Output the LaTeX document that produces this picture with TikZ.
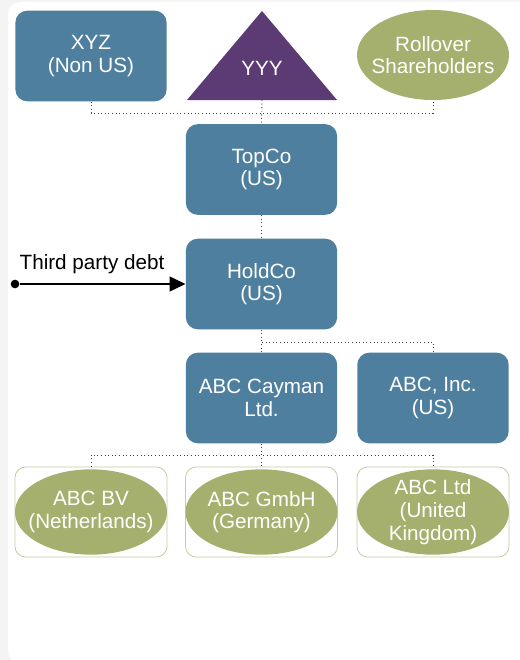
\documentclass[tikz,border=0pt]{standalone}
\usepackage{fontspec}
\setmainfont{Liberation Sans}
\usetikzlibrary{shapes.geometric, arrows.meta}

\definecolor{corpblue}{HTML}{4F7F9E}
\definecolor{fundpurple}{HTML}{5C3B74}
\definecolor{olivegreen}{HTML}{A6B06E}
\definecolor{boxedge}{HTML}{C6CCA0}
\definecolor{pagegray}{HTML}{F4F4F4}

\begin{document}
\begin{tikzpicture}[x=0.75pt, y=-0.75pt]

  % Styles for entities and links
  \tikzset{
    txt/.style={text=white, align=center, font=\fontsize{15.5}{17}\selectfont},
    entity/.style={txt, rectangle, rounded corners=9pt, fill=corpblue,
      minimum width=113.5pt, minimum height=68pt, inner sep=0pt},
    blob/.style={ellipse, fill=olivegreen, minimum width=114pt,
      minimum height=67.5pt, inner sep=0pt},
    frame/.style={rectangle, rounded corners=8pt, draw=boxedge, line width=0.6pt,
      fill=white, minimum width=114pt, minimum height=67.5pt, inner sep=0pt},
    link/.style={dotted, line width=0.7pt, draw=black!75},
    debt/.style={line width=1.8pt, -{Triangle[length=12pt, width=11pt]}},
    dot/.style={circle, fill=black, inner sep=0pt, minimum size=6.5pt}
  }

  \useasboundingbox (0,0) rectangle (520,660);

  % Page background
  \begin{scope}
    \clip (0,0) rectangle (520,660);
    \fill[pagegray] (0,0) rectangle (520,660);
    \fill[white, rounded corners=9pt] (8,2) rectangle (545,663);
  \end{scope}

  % Owners
  \node[entity] (xyz) at (91,56) {XYZ\\(Non US)};
  \fill[fundpurple] (262,11) -- (337,100) -- (187,100) -- cycle;
  \coordinate (yyyb) at (262,100);
  \node[txt] (yyy) at (262,68) {YYY};
  \node[blob, label={[txt]center:Rollover\\Shareholders}] (roll) at (433,55) {};

  % Chain
  \node[entity] (topco) at (261.5,169.5) {TopCo\\(US)};
  \node[entity] (holdco) at (261.5,284) {HoldCo\\(US)};
  \node[entity] (cayman) at (261.5,398) {ABC Cayman\\Ltd.};
  \node[entity] (inc) at (433,398) {ABC, Inc.\\(US)};

  % Foreign subsidiaries
  \node[frame] (bvbox) at (91,512) {};
  \node[frame] (gmbhbox) at (261.5,512) {};
  \node[frame] (ltdbox) at (433,512) {};
  \node[blob, minimum height=64pt, label={[txt]center:ABC BV\\(Netherlands)}] (bv) at (bvbox.center) {};
  \node[blob, minimum height=64pt, label={[txt]center:ABC GmbH\\(Germany)}] (gmbh) at (gmbhbox.center) {};
  \node[blob, minimum height=64pt, label={[txt]center:ABC Ltd\\(United\\Kingdom)}] (ltd) at (ltdbox.center) {};

  % Ownership links
  \coordinate (j1) at (262,113);
  \coordinate (j2) at (262,342);
  \coordinate (j3) at (262,455);
  \draw[link] (xyz.south) |- (j1) -| (roll.south);
  \draw[link] (yyyb) -- (topco.north);
  \draw[link] (topco.south) -- (holdco.north);
  \draw[link] (holdco.south) -- (cayman.north);
  \draw[link] (j2) -| (inc.north);
  \draw[link] (cayman.south) -- (gmbhbox.north);
  \draw[link] (bvbox.north) |- (j3) -| (ltdbox.north);

  % Third party debt
  \node[dot] (lender) at (15,284) {};
  \draw[debt] (lender) -- (holdco.west);
  \node[font=\fontsize{15.5}{17}\selectfont] (debtlbl) at (92,264) {Third party debt};

\end{tikzpicture}
\end{document}
